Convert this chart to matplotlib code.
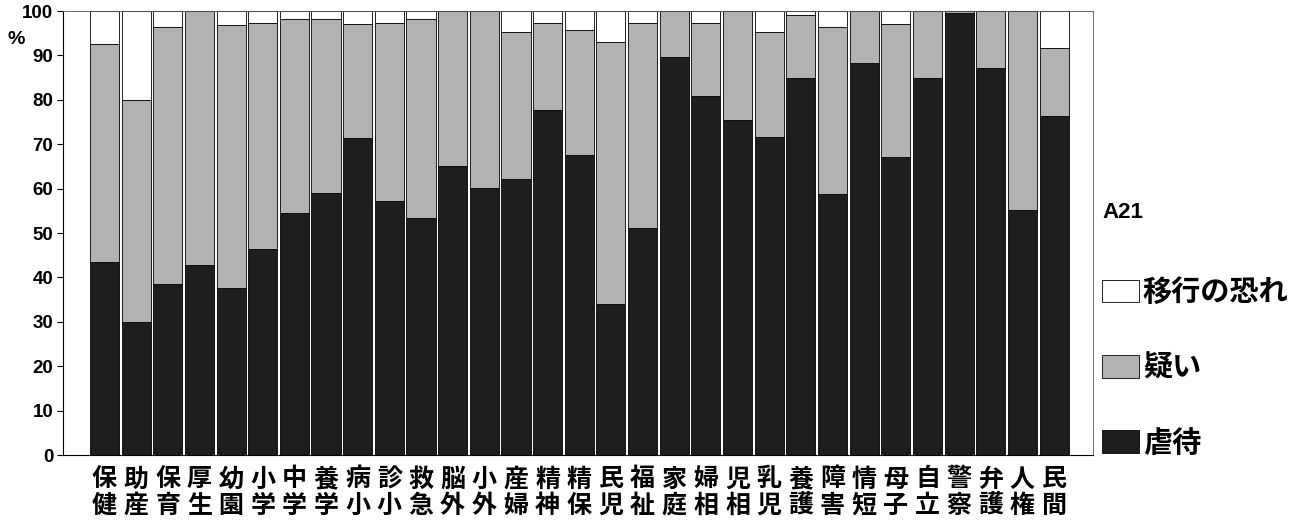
import matplotlib
matplotlib.use("Agg")
import matplotlib.pyplot as plt
import numpy as np

plt.rcParams['font.family'] = ['Noto Sans CJK JP', 'DejaVu Sans']

categories = ["保健", "助産", "保育", "厚生", "幼園", "小学", "中学", "養学", "病小", "診小",
              "救急", "脳外", "小外", "産婦", "精神", "精保", "民児", "福祉", "家庭", "婦相",
              "児相", "乳児", "養護", "障害", "情短", "母子", "自立", "警察", "弁護", "人権", "民間"]

abuse = [43.5, 30.0, 38.5, 42.7, 37.6, 46.4, 54.6, 59.0, 71.4, 57.1,
         53.4, 65.1, 60.1, 62.2, 77.7, 67.5, 34.0, 51.1, 89.7, 80.9,
         75.4, 71.6, 85.0, 58.7, 88.3, 67.1, 84.8, 99.5, 87.1, 55.1, 76.3]
suspect = [49.1, 49.9, 57.8, 57.3, 59.2, 51.0, 43.7, 39.2, 25.7, 40.3,
           44.9, 34.9, 39.9, 33.1, 19.7, 28.2, 59.1, 46.3, 10.3, 16.5,
           24.6, 23.6, 14.1, 37.6, 11.7, 30.0, 15.2, 0.5, 12.9, 44.9, 15.4]
risk = [round(100 - a - s, 1) for a, s in zip(abuse, suspect)]

series_names = ["虐待", "疑い", "移行の恐れ"]
colors = ["#1e1e1e", "#b2b2b2", "#ffffff"]
legend_title = "A21"
yticks = list(range(0, 101, 10))

fig = plt.figure(figsize=(13.14, 5.22), dpi=100)
ax = fig.add_axes([63 / 1314, 1 - 455 / 522, (1093 - 63) / 1314, (455 - 11) / 522])

x = np.arange(len(categories))
w = 0.92
b1 = ax.bar(x, abuse, width=w, color=colors[0], edgecolor="#000000", linewidth=0.6)
b2 = ax.bar(x, suspect, width=w, bottom=abuse, color=colors[1], edgecolor="#000000", linewidth=0.6)
bottom3 = [a + s for a, s in zip(abuse, suspect)]
b3 = ax.bar(x, risk, width=w, bottom=bottom3, color=colors[2], edgecolor="#000000", linewidth=0.6)

ax.set_xlim(-1.31, 31.23)
ax.set_ylim(0, 100)
ax.set_yticks(yticks)
ax.set_yticklabels([str(t) for t in yticks], family=['Liberation Sans', 'DejaVu Sans'],
                   fontweight='bold', fontsize=13.5)
ax.tick_params(axis='y', direction='out', length=4, width=0.8, pad=3)
ax.set_xticks(x)
ax.set_xticklabels(["\n".join(c) for c in categories], fontsize=18, fontweight='bold',
                   linespacing=1.12)
ax.tick_params(axis='x', length=0, pad=9)
for s in ax.spines.values():
    s.set_linewidth(0.8)
for s in ['top', 'right']:
    ax.spines[s].set_linewidth(0.6)
    ax.spines[s].set_color('#555555')

fig.text(16 / 1314, 1 - 40 / 522, "%", fontsize=14, fontweight='bold',
         family=['Liberation Sans', 'DejaVu Sans'], ha='center', va='center')

leg = fig.legend([b3, b2, b1], [series_names[2], series_names[1], series_names[0]],
                 title=legend_title, loc='upper left', bbox_to_anchor=(1102 / 1314, 1 - 202 / 522),
                 frameon=False, fontsize=21, labelspacing=1.55, handlelength=1.28,
                 handleheight=0.82, handletextpad=0.12, borderaxespad=0,
                 title_fontsize=16, alignment='left', borderpad=0)
for t in leg.get_texts():
    t.set_fontweight('bold')
leg.get_title().set_fontweight('bold')
leg.get_title().set_family(['Liberation Sans', 'DejaVu Sans'])
leg._legend_box.sep = 39

fig.savefig("out.png", dpi=100)
